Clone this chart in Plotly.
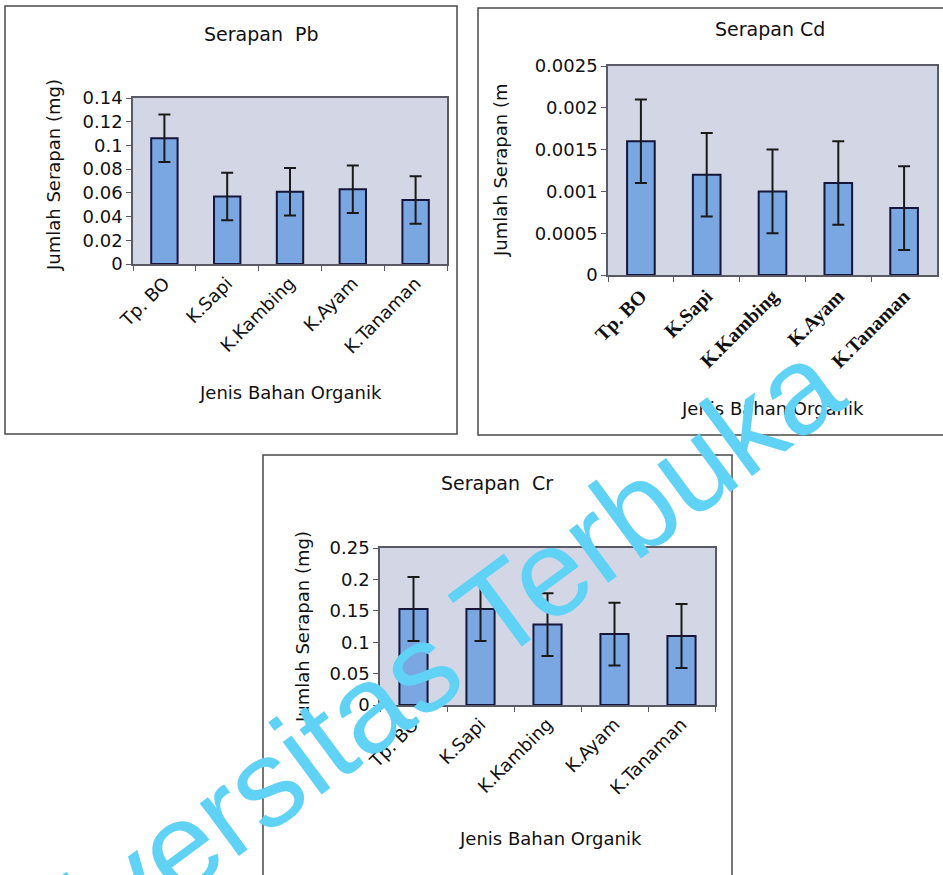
import plotly.graph_objects as go

W, H = 943, 875

categories = ["Tp. BO", "K.Sapi", "K.Kambing", "K.Ayam", "K.Tanaman"]

pb_values = [0.106, 0.057, 0.061, 0.063, 0.054]
pb_errors = [0.020, 0.020, 0.020, 0.020, 0.020]
pb_ticks = [0, 0.02, 0.04, 0.06, 0.08, 0.1, 0.12, 0.14]
pb_ticktext = ["0", "0.02", "0.04", "0.06", "0.08", "0.1", "0.12", "0.14"]

cd_values = [0.0016, 0.0012, 0.0010, 0.0011, 0.0008]
cd_errors = [0.0005, 0.0005, 0.0005, 0.0005, 0.0005]
cd_ticks = [0, 0.0005, 0.001, 0.0015, 0.002, 0.0025]
cd_ticktext = ["0", "0.0005", "0.001", "0.0015", "0.002", "0.0025"]

cr_values = [0.153, 0.153, 0.128, 0.113, 0.110]
cr_errors = [0.051, 0.051, 0.050, 0.050, 0.051]
cr_ticks = [0, 0.05, 0.1, 0.15, 0.2, 0.25]
cr_ticktext = ["0", "0.05", "0.1", "0.15", "0.2", "0.25"]


def px(x):
    return x / W


def py(y):
    return 1 - y / H


SANS = "DejaVu Sans"
SERIF = "Liberation Serif"
INK = "#111111"
BAR = "#7aa6e2"
BAR_LINE = "#16163a"

fig = go.Figure()


def add_bars(vals, errs, xa, ya):
    fig.add_trace(go.Bar(
        x=categories, y=vals, xaxis=xa, yaxis=ya, width=0.42,
        marker=dict(color=BAR, line=dict(color=BAR_LINE, width=2)),
        error_y=dict(type="data", array=errs, visible=True,
                     color="#1a1a1a", thickness=2, width=6),
        showlegend=False,
    ))


add_bars(pb_values, pb_errors, "x", "y")
add_bars(cd_values, cd_errors, "x2", "y2")
add_bars(cr_values, cr_errors, "x3", "y3")


def xaxis(dom, anchor, font):
    return dict(domain=dom, anchor=anchor, type="category", automargin=False,
                showline=True, linecolor="#5a5a66", linewidth=1.5, mirror=True,
                ticks="outside", ticklen=5, tickcolor="#5a5a66", tickson="boundaries",
                tickangle=-45, tickfont=font, showgrid=False, zeroline=False,
                fixedrange=True)


def yaxis(dom, anchor, rng, tv, tt):
    return dict(domain=dom, anchor=anchor, range=rng, tickmode="array",
                tickvals=tv, ticktext=tt, automargin=False,
                showline=True, linecolor="#5a5a66", linewidth=1.5, mirror=True,
                ticks="outside", ticklen=5, tickcolor="#5a5a66",
                tickfont=dict(family=SANS, size=18, color=INK),
                showgrid=False, zeroline=False, fixedrange=True)


sans_tick = dict(family=SANS, size=18, color=INK)
serif_tick = dict(family=SERIF, size=20, color=INK, weight="bold")

fig.update_layout(
    template="none",
    width=W, height=H, autosize=False,
    margin=dict(l=0, r=0, t=0, b=0, pad=0),
    paper_bgcolor="white",
    plot_bgcolor="#d3d7e5",
    xaxis=xaxis([px(133), px(447)], "y", sans_tick),
    yaxis=yaxis([py(264), py(98)], "x", [0, 0.14], pb_ticks, pb_ticktext),
    xaxis2=xaxis([px(608), px(937)], "y2", serif_tick),
    yaxis2=yaxis([py(275), py(66)], "x2", [0, 0.0025], cd_ticks, cd_ticktext),
    xaxis3=xaxis([px(380), px(715)], "y3", sans_tick),
    yaxis3=yaxis([py(705), py(548)], "x3", [0, 0.25], cr_ticks, cr_ticktext),
    bargap=0.5,
)

# panel frames
for (x0, y0, x1, y1) in [(5, 6, 457, 434), (478, 8, 946, 435), (263, 455, 732, 880)]:
    fig.add_shape(type="rect", xref="paper", yref="paper",
                  x0=px(x0), x1=px(x1), y0=py(y1), y1=py(y0),
                  line=dict(color="#4a4a4a", width=1.5), fillcolor="rgba(0,0,0,0)",
                  layer="below")


def note(text, x, y, size=18, angle=0, family=SANS):
    fig.add_annotation(text=text, x=px(x), y=py(y), xref="paper", yref="paper",
                       showarrow=False, textangle=angle,
                       font=dict(family=family, size=size, color=INK),
                       xanchor="center", yanchor="middle")


note("Serapan  Pb", 261, 34, size=19)
note("Serapan Cd", 770, 29, size=19)
note("Serapan  Cr", 497, 483, size=19)

note("Jumlah Serapan (mg)", 54, 175, angle=-90)
note("Jumlah Serapan (m", 500, 170, angle=-90)
note("Jumlah Serapan (mg)", 302, 627, angle=-90)

note("Jenis Bahan Organik", 290, 393)
note("Jenis Bahan Organik", 772, 408)
note("Jenis Bahan Organik", 550, 838)

# watermark
fig.add_annotation(text="Universitas Terbuka", x=px(388), y=py(692),
                   xref="paper", yref="paper", showarrow=False, textangle=-36.5,
                   font=dict(family="Liberation Sans", size=124, color="#5fd2f6"),
                   xanchor="center", yanchor="middle")

fig.write_html("out.html", config=dict(responsive=False, displayModeBar=False),
               post_script="document.body.style.margin='0';")
